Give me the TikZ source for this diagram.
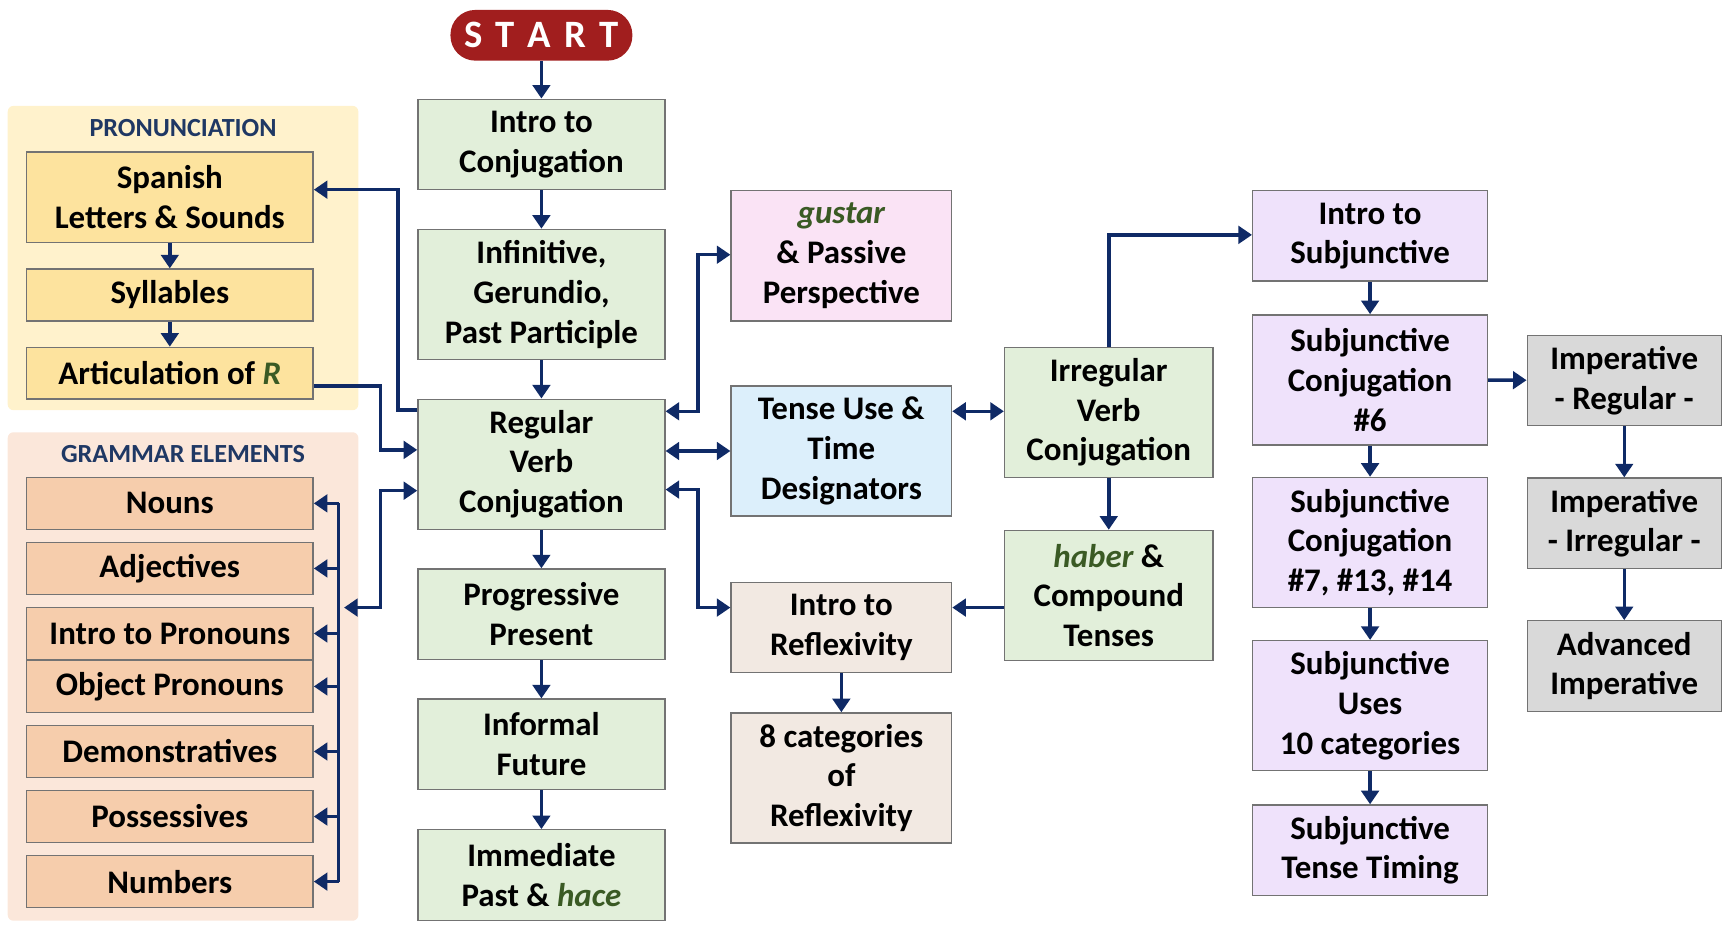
\documentclass[tikz,border=0pt]{standalone}
\usepackage{fontspec}
\setmainfont{Carlito}
\usetikzlibrary{arrows.meta}
\definecolor{navy}{HTML}{0F2A66}
\definecolor{hdr}{HTML}{1F3864}
\definecolor{grn}{HTML}{E2EFDA}
\definecolor{pnk}{HTML}{FAE3F5}
\definecolor{blu}{HTML}{DCEFFB}
\definecolor{bge}{HTML}{F2E9E2}
\definecolor{prp}{HTML}{EFE2FB}
\definecolor{gry}{HTML}{D9D9D9}
\definecolor{ylwbg}{HTML}{FFF2CC}
\definecolor{ylw}{HTML}{FDE39E}
\definecolor{orgbg}{HTML}{FBE7DA}
\definecolor{org}{HTML}{F6CDAC}
\definecolor{startred}{HTML}{A11E1E}
\definecolor{itgrn}{HTML}{3A5A24}
\newcommand{\gw}[1]{\textit{\textcolor{itgrn}{#1}}}
\tikzset{
  box/.style={draw=black!55, line width=0.7pt, align=center, inner sep=1pt,
    font=\fontsize{17}{20.5}\selectfont\bfseries},
  tall/.style={minimum height=2.36cm},
  mid/.style={minimum height=1.64cm},
  low/.style={minimum height=0.94cm},
  conn/.style={draw=navy, line width=1.8pt, -{Triangle[length=7pt,width=9pt]}},
  both/.style={conn, {Triangle[length=7pt,width=9pt]}-{Triangle[length=7pt,width=9pt]}},
}
\begin{document}
\begin{tikzpicture}[x=0.02cm, y=-0.02cm]
\useasboundingbox (0,0) rectangle (1568,844);
% panels
\fill[ylwbg, rounded corners=3pt] (7,96) rectangle (325,372);
\fill[orgbg, rounded corners=3pt] (7,392) rectangle (325,835);
\node[font=\fontsize{13.5}{16}\selectfont\bfseries, text=hdr] (pronhdr) at (166,116) {PRONUNCIATION};
\node[font=\fontsize{13.5}{16}\selectfont\bfseries, text=hdr] (gramhdr) at (166,412) {GRAMMAR ELEMENTS};
% start
\node[fill=startred, rounded corners=0.45cm, minimum width=3.3cm, minimum height=0.92cm,
  text=white, font=\fontsize{20}{24}\selectfont\bfseries] (start) at (491,32) {S\,\,T\,\,A\,\,R\,\,T};
% pronunciation
\begin{scope}[every node/.append style={box, fill=ylw, minimum width=5.2cm}]
\node[mid] (letters) at (154,179) {Spanish\\Letters \& Sounds};
\node[low] (syll) at (154,267.5) {Syllables};
\node[low] (artic) at (154,338.5) {Articulation of \gw{R}};
\end{scope}
% grammar
\begin{scope}[every node/.append style={box, fill=org, minimum width=5.2cm, low}]
\node (nouns) at (154,456.5) {Nouns};
\node (adj) at (154,515.5) {Adjectives};
\node (pron) at (154,574.5) {Intro to Pronouns};
\node (objpron) at (154,622.5) {Object Pronouns};
\node (demo) at (154,681.5) {Demonstratives};
\node (poss) at (154,740.5) {Possessives};
\node (numb) at (154,799.5) {Numbers};
\end{scope}
% main column
\begin{scope}[every node/.append style={box, fill=grn, minimum width=4.48cm}]
\node[mid] (introconj) at (491,131) {Intro to\\Conjugation};
\node[tall] (infin) at (491,267) {Infinitive,\\Gerundio,\\Past Participle};
\node[tall] (regular) at (491,421) {Regular\\Verb\\Conjugation};
\node[mid] (prog) at (491,557) {Progressive\\Present};
\node[mid] (future) at (491,675) {Informal\\Future};
\node[mid] (immed) at (491,793.5) {Immediate\\Past \& \gw{hace}};
\end{scope}
% third column
\begin{scope}[every node/.append style={box, minimum width=4cm}]
\node[tall, fill=pnk] (gustar) at (763,232) {\gw{gustar}\\\& Passive\\Perspective};
\node[tall, fill=blu] (tense) at (763,409) {Tense Use \&\\Time\\Designators};
\node[mid, fill=bge] (reflex) at (763,569) {Intro to\\Reflexivity};
\node[tall, fill=bge] (reflcat) at (763,705.5) {8 categories\\of\\Reflexivity};
\end{scope}
% fourth column
\begin{scope}[every node/.append style={box, fill=grn, minimum width=3.78cm, tall}]
\node (irreg) at (1005.5,374) {Irregular\\Verb\\Conjugation};
\node (haber) at (1005.5,540) {\gw{haber} \&\\Compound\\Tenses};
\end{scope}
% subjunctive
\begin{scope}[every node/.append style={box, fill=prp, minimum width=4.26cm}]
\node[mid] (subintro) at (1242.5,214) {Intro to\\Subjunctive};
\node[tall] (subsix) at (1242.5,344.5) {Subjunctive\\Conjugation\\\#6};
\node[tall] (subseven) at (1242.5,492) {Subjunctive\\Conjugation\\\#7, \#13, \#14};
\node[tall] (subuses) at (1242.5,640) {Subjunctive\\Uses\\10 categories};
\node[mid] (subtiming) at (1242.5,771) {Subjunctive\\Tense Timing};
\end{scope}
% imperative
\begin{scope}[every node/.append style={box, fill=gry, minimum width=3.52cm, mid}]
\node (impreg) at (1473,345) {Imperative\\- Regular -};
\node (impirr) at (1473,474.5) {Imperative\\- Irregular -};
\node (impadv) at (1473,604) {Advanced\\Imperative};
\end{scope}
% connectors
\draw[conn] (start) -- (introconj);
\draw[conn] (introconj) -- (infin);
\draw[conn] (infin) -- (regular);
\draw[conn] (regular) -- (prog);
\draw[conn] (prog) -- (future);
\draw[conn] (future) -- (immed);
\draw[conn] (letters) -- (syll);
\draw[conn] (syll) -- (artic);
\draw[conn] (regular.west |- 0,372) -- (361,372) -- (361,172) -- (letters.east |- 0,172);
\draw[conn] (artic.east |- 0,350) -- (345,350) -- (345,408) -- (regular.west |- 0,408);
\coordinate (bus) at (307,551);
\draw[both] (312,551) -- (345,551) -- (345,445) -- (regular.west |- 0,445);
\draw[draw=navy, line width=1.8pt] (307,456.5) -- (307,799.5);
\foreach \g in {nouns,adj,pron,objpron,demo,poss,numb}
  \draw[conn] (bus |- \g) -- (\g.east);
\draw[both] (regular.east |- 0,373) -- (633,373) -- (633,231) -- (gustar.west |- 0,231);
\draw[both] (regular.east |- 0,409) -- (tense.west);
\draw[both] (regular.east |- 0,444) -- (633,444) -- (633,551) -- (reflex.west |- 0,551);
\draw[both] (tense.east |- 0,373) -- (irreg.west |- 0,373);
\draw[conn] (irreg.north) -- (1005.5,213) -- (subintro.west |- 0,213);
\draw[conn] (irreg) -- (haber);
\draw[conn] (haber.west |- 0,551) -- (reflex.east |- 0,551);
\draw[conn] (reflex) -- (reflcat);
\draw[conn] (subintro) -- (subsix);
\draw[conn] (subsix) -- (subseven);
\draw[conn] (subseven) -- (subuses);
\draw[conn] (subuses) -- (subtiming);
\draw[conn] (subsix) -- (impreg);
\draw[conn] (impreg) -- (impirr);
\draw[conn] (impirr) -- (impadv);
\end{tikzpicture}
\end{document}
